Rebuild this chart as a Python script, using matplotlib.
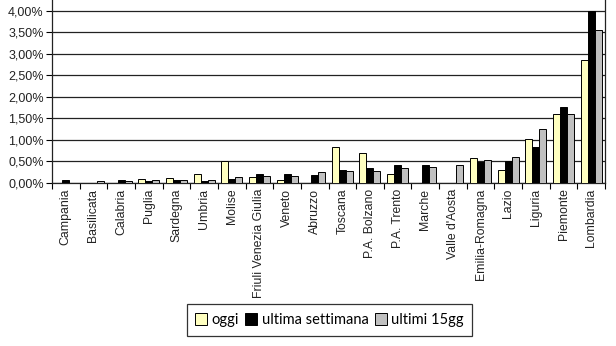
# bar chart: regional percentages (oggi / ultima settimana / ultimi 15gg)
import numpy as np
import matplotlib.pyplot as plt
from matplotlib.ticker import FuncFormatter

regioni = ['Campania', 'Basilicata', 'Calabria', 'Puglia', 'Sardegna', 'Umbria',
           'Molise', 'Friuli Venezia Giulia', 'Veneto', 'Abruzzo', 'Toscana',
           'P.A. Bolzano', 'P.A. Trento', 'Marche', "Valle d'Aosta",
           'Emilia-Romagna', 'Lazio', 'Liguria', 'Piemonte', 'Lombardia']

# values in %
oggi = [0.00, 0.00, 0.00, 0.09, 0.11, 0.22, 0.50, 0.15, 0.08, 0.00,
        0.84, 0.70, 0.22, 0.00, 0.00, 0.59, 0.31, 1.03, 1.61, 2.85]
settimana = [0.06, 0.00, 0.06, 0.04, 0.08, 0.05, 0.10, 0.20, 0.20, 0.18,
             0.31, 0.36, 0.41, 0.41, 0.00, 0.49, 0.50, 0.84, 1.77, 4.00]
ultimi15 = [0.00, 0.04, 0.04, 0.06, 0.08, 0.08, 0.13, 0.16, 0.16, 0.25,
            0.29, 0.29, 0.36, 0.38, 0.41, 0.54, 0.61, 1.26, 1.61, 3.55]

plt.rcParams['font.family'] = ['Liberation Sans', 'DejaVu Sans']

fig = plt.figure(figsize=(6.16, 3.46), dpi=100)
ax = fig.add_axes([52 / 616, 1 - 183 / 346, (605 - 52) / 616, 183 / 346])

x = np.arange(len(regioni))
w = 0.253
ax.bar(x - w, oggi, w, color='#FFFFC0', edgecolor='black', linewidth=0.7, label='oggi', zorder=3)
ax.bar(x, settimana, w, color='black', edgecolor='black', linewidth=0.7, label='ultima settimana', zorder=3)
ax.bar(x + w, ultimi15, w, color='#C0C0C0', edgecolor='black', linewidth=0.7, label='ultimi 15gg', zorder=3)

ax.set_xlim(-0.5, len(regioni) - 0.5)
ax.set_ylim(0, 4.0 + 11 / 172.3 * 4)
ax.set_yticks(np.arange(0, 4.01, 0.5))
ax.yaxis.set_major_formatter(FuncFormatter(lambda v, p: ('%.2f%%' % v).replace('.', ',')))
ax.grid(axis='y', color='#222222', linewidth=0.9, zorder=0)

# ticks between categories, labels at category centers
ax.set_xticks(np.arange(len(regioni) + 1) - 0.5)
ax.set_xticklabels([])
ax.set_xticks(x, minor=True)
ax.set_xticklabels(regioni, minor=True, rotation=90, fontsize=8.8, color='#222222')
ax.tick_params(axis='x', which='minor', length=0, pad=4)
ax.tick_params(axis='x', which='major', length=4, width=0.8)
ax.tick_params(axis='y', length=4, width=0.8, labelsize=9, labelcolor='#222222', pad=2)

ax.spines['top'].set_visible(False)
for s in ['left', 'right', 'bottom']:
    ax.spines[s].set_linewidth(0.9)
    ax.spines[s].set_color('#222222')

leg = fig.legend(loc='center', bbox_to_anchor=(329.5 / 616, 1 - 320 / 346), ncol=3,
                 frameon=True, fancybox=False, edgecolor='black',
                 prop={'family': 'Lato', 'size': 10.5},
                 handlelength=0.8, handleheight=0.8, handletextpad=0.3,
                 columnspacing=0.45, borderpad=0.6, borderaxespad=0)
leg.get_frame().set_linewidth(0.9)

fig.savefig('out.png', dpi=100)
